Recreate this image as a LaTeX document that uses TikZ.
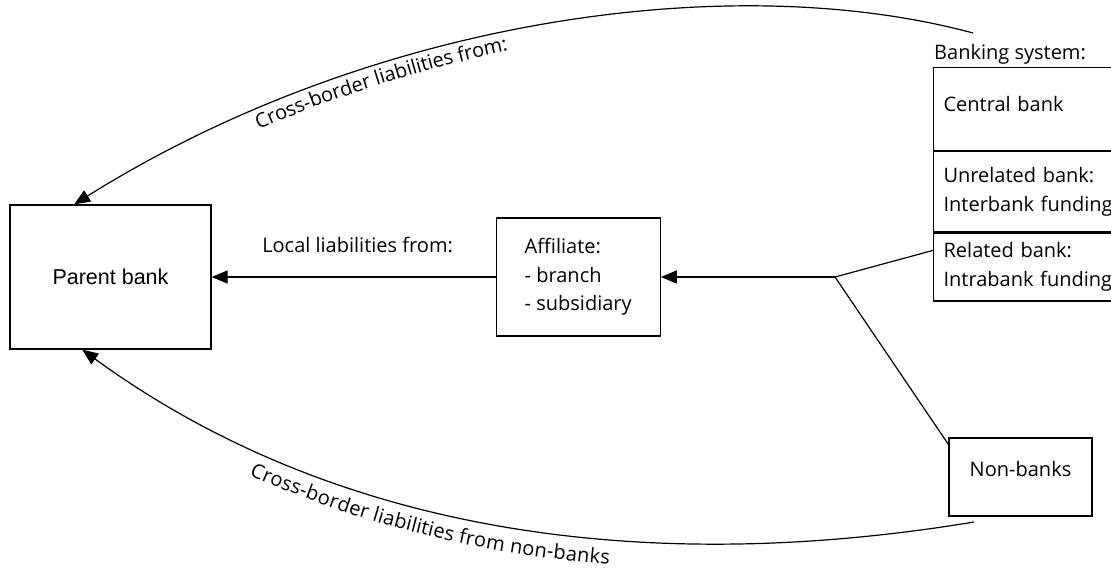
\documentclass[tikz,border=0pt]{standalone}
\usepackage{fontspec}
\setmainfont{Open Sans}
\newfontfamily\arialfont{Liberation Sans}
\usepackage{tikz}
\usetikzlibrary{positioning,arrows.meta,calc,decorations.text}
\definecolor{ink}{HTML}{000000}
\newcommand{\lblsize}{\fontsize{20}{28.5}\selectfont}
\tikzset{
  >={Triangle[length=16pt,width=13pt]},
  blk/.style={rectangle,draw=ink,line width=1.2pt,align=center,inner sep=0pt,font=\lblsize},
  blkl/.style={rectangle,draw=ink,line width=1.2pt,align=left,text width=190pt,
    inner xsep=10pt,inner ysep=0pt,minimum width=210pt,font=\lblsize},
  ar/.style={->,line width=1.2pt,draw=ink},
  arl/.style={<-,line width=1.2pt,draw=ink},
  ln/.style={line width=1.2pt,draw=ink},
  lbl/.style={font=\lblsize,text=ink,inner sep=0pt},
}

\begin{document}
\begin{tikzpicture}[x=1pt,y=-1pt]
  \useasboundingbox (0,0) rectangle (1111,574);
  \node[blk,font=\arialfont\fontsize{21.5}{24}\selectfont,minimum width=201pt,minimum height=144pt] (parent) at (110.5,277) {Parent bank};
  \node[blk,align=left,minimum width=164pt,minimum height=118pt,right=284pt of parent] (aff) {Affiliate:\\- branch\\- subsidiary};
  \node[blkl,anchor=north west,minimum height=83pt,text depth=10pt] (central) at (933,67) {Central bank};
  \node[blkl,below=0pt of central,minimum height=80pt] (unrel) {Unrelated bank:\\Interbank funding};
  \node[blkl,below=0pt of unrel,minimum height=68pt] (rel) {Related bank:\\Intrabank funding};
  \node[lbl,anchor=base west] (bslbl) at ([shift={(1,-8)}]central.north west) {Banking system:};
  \node[blk,minimum width=143pt,minimum height=78pt,text depth=17pt] (nonbk) at (1020.5,477) {Non-banks};

  \coordinate (fork) at (835,277);
  \coordinate (topend) at (973,33);
  \coordinate (lowend) at (974,522);
  \coordinate (ptop) at ($(parent.north west)!0.32!(parent.north east)$);
  \coordinate (pbot) at ($(parent.south west)!0.36!(parent.south east)$);

  \draw[ar] (aff) -- node[lbl,above=24pt,xshift=4pt] {Local liabilities from:} (parent);
  \draw[ar] (fork) -- (aff);
  \draw[ln] (fork) -- ($(rel.north west)!0.26!(rel.south west)$);
  \draw[ln] (fork) -- ([yshift=-7pt]nonbk.north west);

  % cross-border flows
  \draw[arl,postaction={decorate,decoration={text along path,
      text={|\lblsize|Cross-border liabilities from:},raise=-19pt,
      text align={left indent=200pt}}}]
    (ptop) .. controls +(297,-186) and +(-241,-65) .. (topend);
  \draw[arl,postaction={decorate,decoration={text along path,
      text={|\lblsize|Cross-border liabilities from non-banks},raise=-25pt,
      text align={left indent=205pt}}}]
    (pbot) .. controls +(243,177) and +(-345,57) .. (lowend);
\end{tikzpicture}
\end{document}
